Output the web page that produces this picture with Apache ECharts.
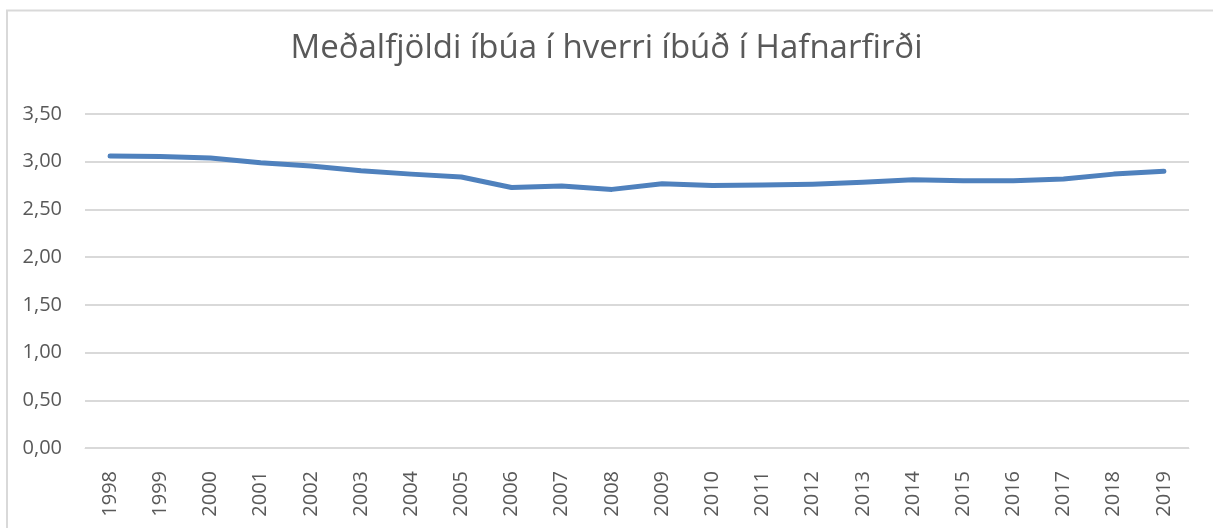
<!DOCTYPE html>
<html><head><meta charset="utf-8">
<script src="https://cdn.jsdelivr.net/npm/echarts@6/dist/echarts.min.js"></script>
<style>html,body{margin:0;padding:0;background:#fff}#c{width:1213px;height:528px}</style>
</head><body><div id="c"></div>
<script>
const titleText = 'Meðalfjöldi íbúa í hverri íbúð í Hafnarfirði';
const years = ['1998','1999','2000','2001','2002','2003','2004','2005','2006','2007','2008','2009','2010','2011','2012','2013','2014','2015','2016','2017','2018','2019'];
const values = [3.06,3.055,3.04,2.99,2.955,2.905,2.87,2.84,2.73,2.745,2.71,2.77,2.75,2.755,2.765,2.785,2.81,2.80,2.80,2.82,2.87,2.90];
const yMin = 0, yMax = 3.5, yStep = 0.5;

const chart = echarts.init(document.getElementById('c'), null, {renderer:'canvas'});
chart.setOption({
  animation:false,
  backgroundColor:'#fff',
  graphic:[{type:'rect',shape:{x:7,y:10.5,width:1220,height:540},style:{fill:'none',stroke:'#d9d9d9',lineWidth:2},silent:true}],
  title:{text:titleText,left:'center',top:27,textStyle:{fontFamily:'Open Sans',fontSize:33,fontWeight:'normal',color:'#595959'}},
  grid:{left:85,right:24,top:114,bottom:80,containLabel:false},
  xAxis:{type:'category',data:years,boundaryGap:true,
    axisLine:{show:true,lineStyle:{color:'#d9d9d9',width:1}},axisTick:{show:false},
    axisLabel:{rotate:90,margin:23,interval:0,fontFamily:'Open Sans',fontSize:20,color:'#595959'}},
  yAxis:{type:'value',min:yMin,max:yMax,interval:yStep,
    axisLine:{show:false},axisTick:{show:false},
    splitLine:{lineStyle:{color:'#d9d9d9',width:2}},
    axisLabel:{margin:23,fontFamily:'Open Sans',fontSize:20,color:'#595959',formatter:v=>v.toFixed(2).replace('.',',')}},
  series:[{type:'line',data:values,symbol:'none',smooth:false,lineStyle:{color:'#4f81bd',width:5,cap:'round',join:'round'}}]
});
</script></body></html>
